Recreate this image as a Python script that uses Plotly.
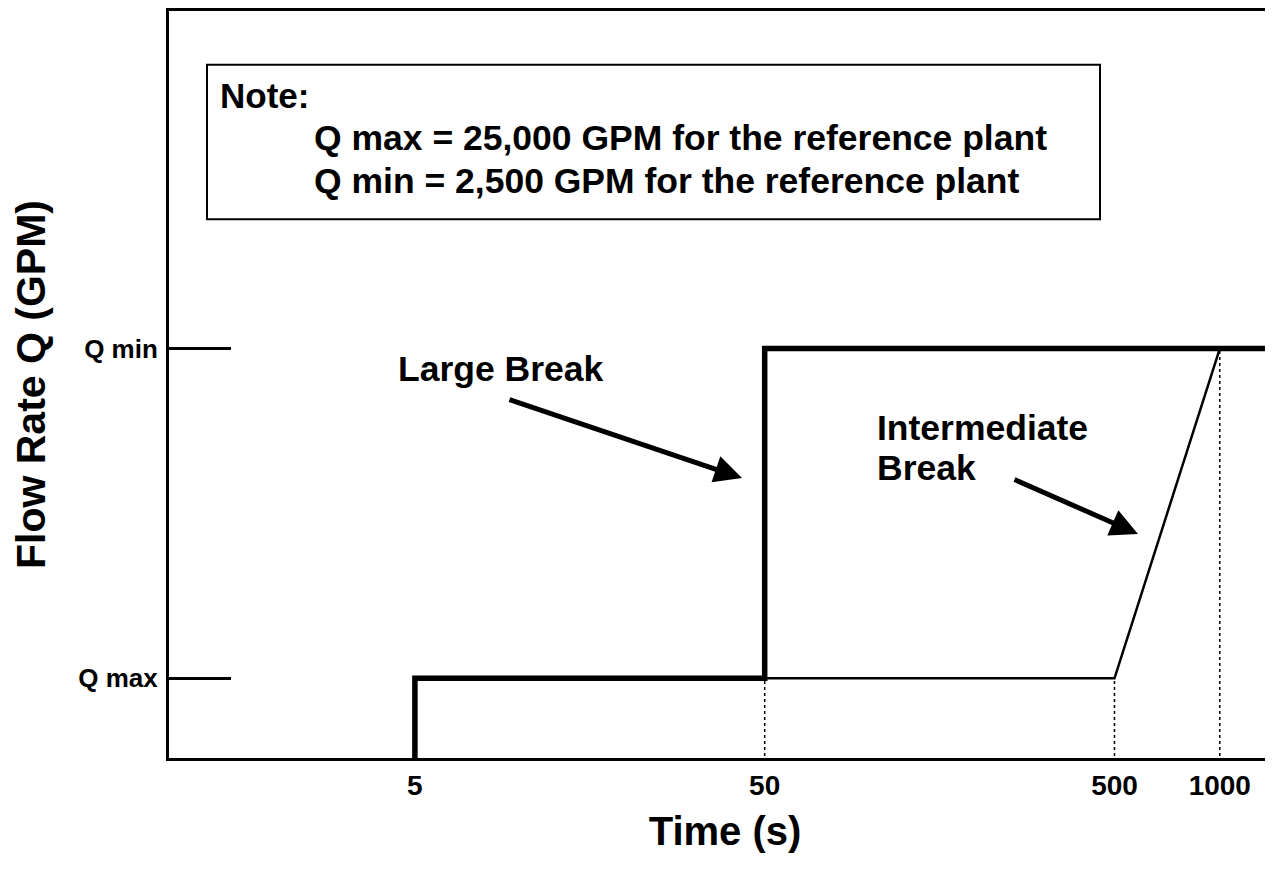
import plotly.graph_objects as go

# Niveles de caudal (unidades relativas del esquema)
nivel_q = [0, 1]
etiquetas_q = ["Q max", "Q min"]

# Tiempos marcados en el eje (s)
tiempos_eje = [5, 50, 500, 1000]
etiquetas_tiempo = ["5", "50", "500", "1000"]

# Rotura grande: escalón
t_grande = [5, 5, 50, 50, 2000]
q_grande = [-1, 0, 0, 1, 1]

# Rotura intermedia: rampa
t_intermedia = [50, 500, 1000]
q_intermedia = [0, 0, 1]

# Guías punteadas
t_guias = [50, 500, 1000]
q_guias = [0, 0, 1]

# Texto de la nota
nota = [
    "Q max = 25,000 GPM for the reference plant",
    "Q min = 2,500 GPM for the reference plant",
]

FUENTE = "Liberation Sans, Arial, Helvetica, sans-serif"
ANCHO_AREA = 1112  # ancho del área de trazado en px


def px(x):
    # pixel horizontal de la pantalla -> coordenada paper
    return (x - 169) / ANCHO_AREA


def py(y):
    # pixel vertical de la pantalla -> coordenada paper
    return (758 - y) / 750


fig = go.Figure()

# Líneas guía verticales punteadas
for t, q in zip(t_guias, q_guias):
    fig.add_trace(go.Scatter(
        x=[t, t], y=[-1, q], mode="lines",
        line=dict(color="black", width=1.5, dash="dot"),
        showlegend=False, hoverinfo="skip"
    ))

fig.add_trace(go.Scatter(
    x=t_intermedia, y=q_intermedia, mode="lines",
    line=dict(color="black", width=2.5),
    name="Intermediate Break", showlegend=False
))

fig.add_trace(go.Scatter(
    x=t_grande, y=q_grande, mode="lines",
    line=dict(color="black", width=5.5),
    name="Large Break", showlegend=False
))

# Caja de nota
fig.add_shape(type="rect", xref="paper", yref="paper",
              x0=px(207), x1=px(1100), y0=py(217), y1=py(62),
              line=dict(color="black", width=2), fillcolor="white")

fig.add_annotation(xref="paper", yref="paper", x=px(218), y=py(93),
                   text="<b>Note:</b>", showarrow=False,
                   xanchor="left", yanchor="middle",
                   font=dict(size=35, color="black", family=FUENTE))
for i, linea in enumerate(nota):
    fig.add_annotation(xref="paper", yref="paper", x=px(312), y=py(136 + 43 * i),
                       text="<b>%s</b>" % linea, showarrow=False,
                       xanchor="left", yanchor="middle",
                       font=dict(size=35.5, color="black", family=FUENTE))

# Etiquetas con flecha
fig.add_annotation(xref="paper", yref="paper", x=px(396), y=py(367),
                   text="<b>Large Break</b>", showarrow=False,
                   xanchor="left", yanchor="middle",
                   font=dict(size=35.5, color="black", family=FUENTE))
fig.add_annotation(xref="paper", yref="paper", x=px(875), y=py(427),
                   text="<b>Intermediate</b>", showarrow=False,
                   xanchor="left", yanchor="middle",
                   font=dict(size=35.5, color="black", family=FUENTE))
fig.add_annotation(xref="paper", yref="paper", x=px(875), y=py(467),
                   text="<b>Break</b>", showarrow=False,
                   xanchor="left", yanchor="middle",
                   font=dict(size=35.5, color="black", family=FUENTE))

for (xh, yh, xt, yt) in [(742, 477, 508, 398), (1138, 533, 1013, 478)]:
    fig.add_annotation(xref="paper", yref="paper", axref="pixel", ayref="pixel",
                       x=px(xh), y=py(yh), ax=xt - xh, ay=yt - yh, text="",
                       showarrow=True, arrowhead=2, arrowsize=1.1,
                       arrowwidth=5, arrowcolor="black")

fig.update_layout(
    width=1273, height=881,
    margin=dict(l=161, r=0, t=0, b=131),
    plot_bgcolor="white", paper_bgcolor="white",
    font=dict(family=FUENTE, color="black"),
    xaxis=dict(
        type="log", range=[-0.004, 3.175],
        tickvals=tiempos_eje, ticktext=["<b>%s</b>" % e for e in etiquetas_tiempo],
        tickfont=dict(size=28), ticks="", showgrid=False, zeroline=False,
        showline=True, linecolor="black", linewidth=3, mirror=True,
        title=dict(text="<b>Time (s)</b>", font=dict(size=40), standoff=18),
    ),
    yaxis=dict(
        range=[-0.2417, 2.024],
        tickvals=nivel_q, ticktext=["<b>%s</b>" % e for e in etiquetas_q],
        tickfont=dict(size=26), ticks="inside", ticklen=62, tickwidth=2.5,
        tickcolor="black", ticklabelstandoff=3,
        showgrid=False, zeroline=False,
        showline=True, linecolor="black", linewidth=3,
        title=dict(text="<b>Flow Rate Q (GPM)</b>", font=dict(size=41), standoff=20),
    ),
)

fig.write_html("out.html")
